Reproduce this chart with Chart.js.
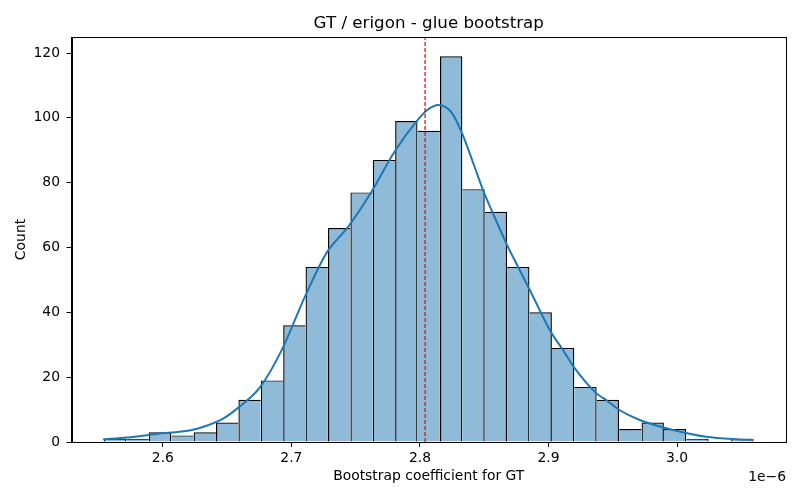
<!DOCTYPE html>
<html><head><meta charset="utf-8">
<script src="https://cdn.jsdelivr.net/npm/chart.js@4.4.1/dist/chart.umd.min.js"></script>
<style>html,body{margin:0;padding:0;background:#fff}#wrap{width:800px;height:500px}</style>
</head><body><div id="wrap"><canvas id="c" width="800" height="500"></canvas></div>
<script>
// ---- data (x values in units of 1e-6) ----
const chartTitle = 'GT / erigon - glue bootstrap';
const xLabel = 'Bootstrap coefficient for GT';
const yLabel = 'Count';
const xOffsetLabel = '1e\u22126';
const binEdges = [2.5542,2.5716,2.5890,2.6065,2.6239,2.6413,2.6587,2.6762,2.6936,2.7110,
                  2.7284,2.7459,2.7633,2.7807,2.7981,2.8156,2.8330,2.8504,2.8678,2.8852,
                  2.9027,2.9201,2.9375,2.9549,2.9724,2.9898,3.0072,3.0246,3.0421,3.0595];
const binCounts = [1,1,3,2,3,6,13,19,36,54,66,77,87,99,96,119,78,71,54,40,29,17,13,4,6,4,1,0,1];
const kdeX = [2.5535,2.5722,2.5955,2.6214,2.6317,2.6472,2.6577,2.6758,2.6926,2.7107,2.7276,2.7444,
              2.7612,2.7806,2.7975,2.8060,2.8143,2.8200,2.8247,2.8325,2.8415,2.8493,2.8570,2.8674,2.8765,
              2.8856,2.9011,2.9114,2.9205,2.9374,2.9451,2.9555,2.9710,2.9969,3.0228,3.0487,3.0595];
const kdeY = [0.8,1.4,2.5,3.6,4.7,7.3,10.3,17,28.5,45,58.5,66.5,
              76.5,89.8,99,102.5,104,103.3,101.6,95.5,86,77.5,70.4,61.1,53.9,
              46.8,34.5,28.3,22.7,15,12.9,9.8,6.8,3.7,1.6,0.8,0.6];
const refLineX = 2.804;
const xTickValues = [2.6,2.7,2.8,2.9,3.0];
const yTickValues = [0,20,40,60,80,100,120];
const xRange = [2.5289, 3.0848];
const yRange = [0, 124.95];

// ---- build library structures ----
const barData = binCounts.map((c, i) => ({x: (binEdges[i] + binEdges[i + 1]) / 2, y: c}));
const kdeData = kdeX.map((x, i) => ({x: x, y: kdeY[i]}));
const refData = [{x: refLineX, y: yRange[0]}, {x: refLineX, y: yRange[1]}];

const FONT = 'DejaVu Sans';
Chart.defaults.font.family = FONT;
Chart.defaults.font.size = 13.9;
Chart.defaults.color = '#000';

// a shared edge between two bars is drawn once, by the taller of the two
const SIDE = 1.3;
const barBorder = ctx => {
  const i = ctx.dataIndex, n = binCounts.length, c = binCounts[i];
  if (!c) return 0;
  const left = (i === 0 || binCounts[i - 1] < c) ? SIDE : 0;
  const right = (i === n - 1 || binCounts[i + 1] <= c) ? SIDE : 0;
  return {top: 1.1, left: left, bottom: 0, right: right};
};

const decor = {
  id: 'decor',
  afterDatasetsDraw(chart) {
    const {ctx, chartArea: a} = chart;
    ctx.save();
    ctx.strokeStyle = '#000';
    ctx.lineWidth = 1;
    ctx.strokeRect(Math.round(a.left) + 0.5, Math.round(a.top) + 0.5,
                   Math.round(a.right) - Math.round(a.left), Math.round(a.bottom) - Math.round(a.top));
    ctx.fillStyle = '#000';
    ctx.font = '16.7px "' + FONT + '"';
    ctx.textAlign = 'center';
    ctx.textBaseline = 'alphabetic';
    ctx.fillText(chartTitle, (a.left + a.right) / 2, a.top - 9);
    ctx.font = '13.9px "' + FONT + '"';
    ctx.textAlign = 'right';
    ctx.fillText(xOffsetLabel, a.right, 481);
    ctx.restore();
  }
};

new Chart(document.getElementById('c'), {
  type: 'bar',
  data: {
    datasets: [
      {type: 'line', data: refData, borderColor: '#e00000', borderWidth: 1.2,
       borderDash: [4, 2], pointRadius: 0, order: 0},
      {type: 'line', data: kdeData, borderColor: '#1f77b4', borderWidth: 2, pointRadius: 0,
       cubicInterpolationMode: 'monotone', order: 1},
      {type: 'bar', data: barData, backgroundColor: 'rgba(31,119,180,0.5)', borderColor: '#000',
       borderWidth: barBorder, borderSkipped: false, inflateAmount: 0,
       barPercentage: 1, categoryPercentage: 1, order: 2}
    ]
  },
  options: {
    responsive: false,
    devicePixelRatio: 1,
    animation: false,
    layout: {padding: {top: 37, right: 14, left: 0, bottom: 0}},
    plugins: {legend: {display: false}, tooltip: {enabled: false}, title: {display: false}},
    scales: {
      x: {
        type: 'linear', offset: false, min: xRange[0], max: xRange[1],
        afterBuildTicks: s => { s.ticks = xTickValues.map(v => ({value: v})); },
        afterFit: s => { s.height = 58; },
        ticks: {padding: 3.5, maxRotation: 0, autoSkip: false, callback: v => v.toFixed(1)},
        grid: {display: true, offset: false, drawOnChartArea: false, drawTicks: true, tickLength: 5, color: '#000'},
        border: {display: true, color: '#000', width: 1},
        title: {display: true, text: xLabel, padding: {top: 0, bottom: 15}}
      },
      y: {
        type: 'linear', min: yRange[0], max: yRange[1],
        afterBuildTicks: s => { s.ticks = yTickValues.map(v => ({value: v})); },
        afterFit: s => { s.width = 71.5; },
        ticks: {padding: 6.5, callback: v => String(v)},
        grid: {display: true, offset: false, drawOnChartArea: false, drawTicks: true, tickLength: 5, color: '#000'},
        border: {display: true, color: '#000', width: 1},
        title: {display: true, text: yLabel, padding: {top: 13, bottom: 0}}
      }
    }
  },
  plugins: [decor]
});
</script>
</body></html>
